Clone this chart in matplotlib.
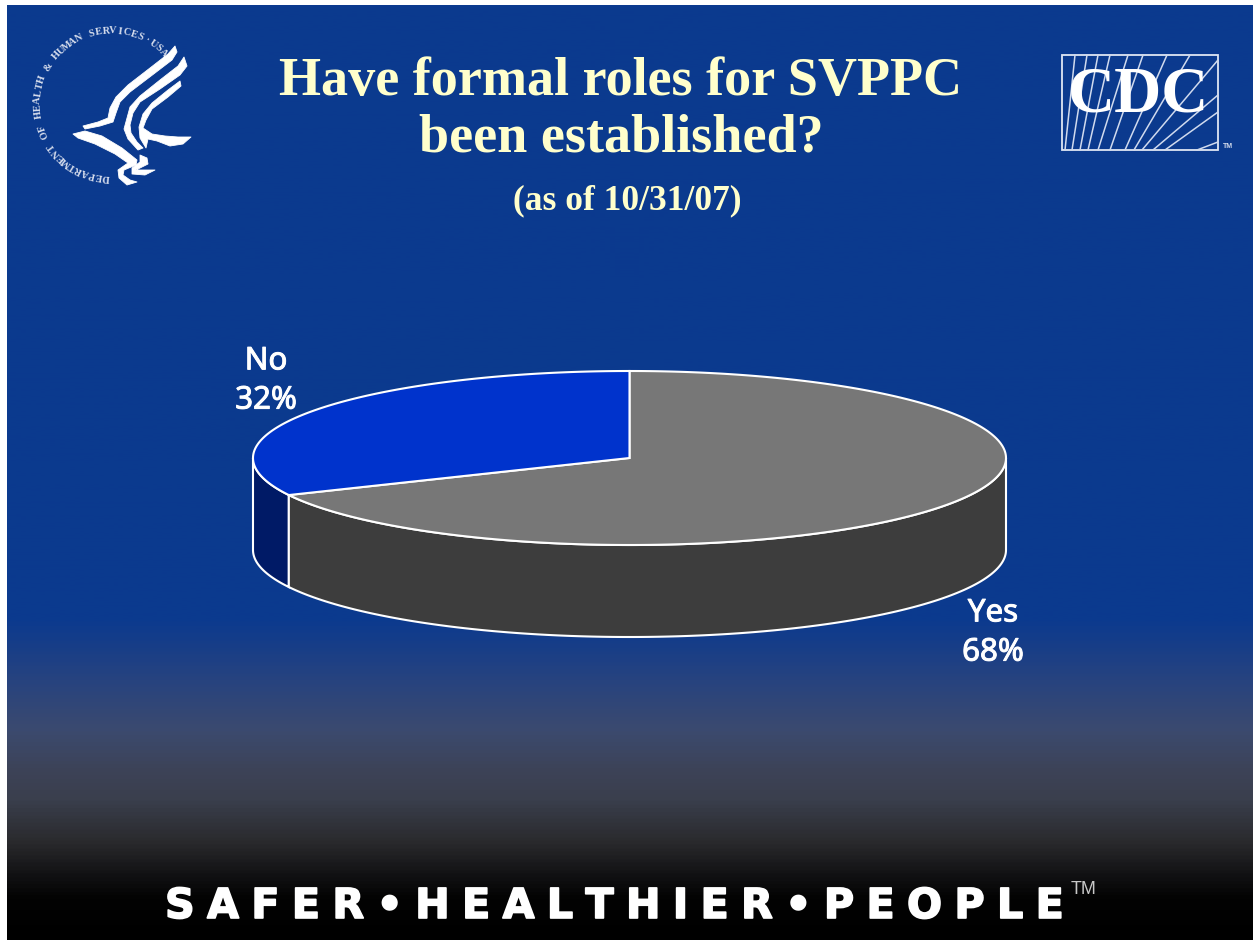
"""
SVPPC formal roles slide - 3D-look pie on the CDC slide template
"""

import matplotlib
matplotlib.use("Agg")
import matplotlib.pyplot as plt
import matplotlib.patheffects as pe
import numpy as np
from matplotlib.colors import LinearSegmentedColormap
from matplotlib.patches import Polygon, Rectangle

W, H = 1253, 940

CATEGORIES = ["Yes", "No"]
VALUES = [68, 32]
TOP_COLORS = {"Yes": "#777777", "No": "#0033cc"}
SIDE_COLORS = {"Yes": "#3d3d3d", "No": "#001a66"}

TITLE_LINES = ["Have formal roles for SVPPC", "been established?"]
SUBTITLE = "(as of 10/31/07)"
SEAL_TEXT = "DEPARTMENT OF HEALTH & HUMAN SERVICES\u00b7USA"

CREAM = "#ffffcc"
TRACK = "\u2009\u200a"

# eagle outline, traced in pixels
WING_1 = [(175, 46), (177, 52), (172, 60), (155, 73), (130, 92), (120, 102), (116, 113), (113, 122), (100, 126),
          (85, 129), (83, 126), (98, 122), (108, 118), (110, 108), (116, 97), (128, 85), (150, 68), (168, 54)]
WING_2 = [(184, 57), (187, 66), (180, 75), (160, 89), (140, 102), (133, 113), (130, 125), (131, 133),
          (137, 142), (143, 148), (138, 150), (128, 139), (124, 129), (127, 118), (130, 107), (140, 96),
          (160, 80), (178, 66)]
WING_3 = [(180, 81), (181, 86), (168, 97), (152, 109), (146, 120), (143, 128), (152, 134), (165, 136),
          (178, 137), (191, 137), (183, 144), (170, 146), (157, 141), (148, 139), (146, 148), (140, 138),
          (139, 127), (143, 114), (152, 103), (168, 90)]
BODY = [(73, 134), (85, 131), (102, 136), (122, 148), (137, 160), (136, 165), (124, 170), (123, 175),
        (130, 180), (137, 182), (127, 185), (119, 178), (118, 170), (128, 163), (115, 154), (95, 144), (78, 138)]
BODY_2 = [(140, 155), (147, 158), (148, 164), (140, 168), (136, 170), (155, 170), (145, 175), (132, 174), (132, 168), (140, 162)]

# cdc logo rays, bottom end -> far end
RAYS = [((1065, 150), (1075, 55)), ((1072, 150), (1087, 55)), ((1080, 150), (1098, 55)), ((1088, 150), (1110, 55)),
        ((1098, 150), (1128, 55)), ((1110, 150), (1143, 55)), ((1125, 150), (1167, 55)), ((1134, 150), (1190, 55)),
        ((1142, 150), (1218, 60)), ((1153, 150), (1218, 95)), ((1165, 150), (1218, 112)), ((1197, 150), (1218, 142))]


def background(ax):
    stops = [0, 620, 680, 730, 770, 800, 843, 877, 900, 940]
    shades = ["#0b3a8f", "#0c3a8e", "#27437f", "#3b4a6f", "#3d4358", "#3a3f4d", "#2a2a2d", "#111113", "#030303", "#000000"]
    pos = [s / 940 for s in stops]
    cmap = LinearSegmentedColormap.from_list("slide", list(zip(pos, shades)))
    grad = np.linspace(0, 1, 940).reshape(-1, 1)
    ax.imshow(grad, cmap=cmap, extent=(7, W, H, 5), aspect="auto", zorder=0, vmin=0, vmax=1)


def draw_pie(ax, cx=629.5, cy=458, rx=376.5, ry=87, depth=92):
    def ell(a):
        return cx + rx * np.cos(a), cy - ry * np.sin(a)

    total = sum(VALUES)
    # No runs counter-clockwise from 12 o'clock, Yes takes the rest
    spans = {}
    start = 90.0
    for name in ["No", "Yes"]:
        val = VALUES[CATEGORIES.index(name)]
        end = start + val / total * 360
        spans[name] = (start, end)
        start = end

    # side wall: only the front half of the rim shows
    for name in ["No", "Yes"]:
        a0, a1 = spans[name]
        a0, a1 = max(a0, 180), min(a1, 360)
        t = np.radians(np.linspace(a0, a1, 200))
        x, y = ell(t)
        px = np.r_[x, x[::-1]]
        py = np.r_[y, (y + depth)[::-1]]
        ax.add_patch(Polygon(np.c_[px, py], fc=SIDE_COLORS[name], ec="white", lw=1.5, zorder=2))

    for name in ["Yes", "No"]:
        a0, a1 = spans[name]
        t = np.radians(np.linspace(a0, a1, 300))
        x, y = ell(t)
        px = np.r_[cx, x]
        py = np.r_[cy, y]
        ax.add_patch(Polygon(np.c_[px, py], fc=TOP_COLORS[name], ec="white", lw=1.5, zorder=3))


def draw_hhs_seal(ax):
    cx, cy, r = 111, 104, 73
    n = len(SEAL_TEXT)
    # clockwise from the bottom of the ring, letter tops face outward
    for i, ch in enumerate(SEAL_TEXT):
        ang = np.radians(266 - i * (222 / (n - 1)))
        x = cx + r * np.cos(ang)
        y = cy - r * np.sin(ang)
        ax.text(x, y, ch, color="#d5dcec", fontsize=7.4, family="Liberation Serif", fontweight="bold",
                ha="center", va="center", rotation=np.degrees(ang) - 90, rotation_mode="anchor", zorder=4)
    for shape in [WING_1, WING_2, WING_3, BODY, BODY_2]:
        ax.add_patch(Polygon(shape, fc="white", ec="white", lw=0.6, joinstyle="round", zorder=4))


def draw_cdc_logo(ax):
    x0, y0, x1, y1 = 1062, 55, 1218, 150
    ax.add_patch(Rectangle((x0, y0), x1 - x0, y1 - y0, fc="none", ec="#dfe6f3", lw=1.3, zorder=4))
    for p, q in RAYS:
        ax.plot([p[0], q[0]], [p[1], q[1]], color="#d0daee", lw=1.1, zorder=4)
    ax.text(1139, 95, "CDC", color="white", fontsize=47, family="Liberation Serif", fontweight="bold",
            ha="center", va="center", zorder=5)
    ax.text(1223, 146, "TM", color="#d5dcec", fontsize=5, family="Liberation Sans", fontweight="bold",
            ha="left", va="center", zorder=5)


fig = plt.figure(figsize=(W / 100, H / 100), dpi=100, facecolor="white")
ax = fig.add_axes([0, 0, 1, 1])
background(ax)
ax.set_xlim(0, W)
ax.set_ylim(H, 0)
ax.axis("off")

draw_pie(ax)
draw_hhs_seal(ax)
draw_cdc_logo(ax)

for y, line in zip([82, 139], TITLE_LINES):
    ax.text(621, y, line, color=CREAM, fontsize=39, family="Liberation Serif", fontweight="bold",
            ha="center", va="center", zorder=5)
ax.text(627, 201, SUBTITLE, color=CREAM, fontsize=25.5, family="Liberation Serif", fontweight="bold",
        ha="center", va="center", zorder=5)

label_pos = {"No": (266, 381), "Yes": (993, 633)}
for name, val in zip(CATEGORIES, VALUES):
    x, y = label_pos[name]
    ax.text(x, y, f"{name}\n{val}%", color="white", fontsize=22.5, family="Noto Sans",
            ha="center", va="center", linespacing=1.4, zorder=5,
            path_effects=[pe.withStroke(linewidth=0.7, foreground="white")])

footer = "SAFER\u2022HEALTHIER\u2022PEOPLE"
ax.text(165, 907, TRACK.join(footer), color="white", fontsize=29.7, family="DejaVu Sans", fontweight="bold",
        ha="left", va="center", zorder=5, path_effects=[pe.withStroke(linewidth=1.2, foreground="white")])
ax.text(1071, 889, "TM", color="#c8c8c8", fontsize=13, family="Liberation Sans", ha="left", va="center", zorder=5)

fig.savefig("out.png", dpi=100, facecolor="white")
